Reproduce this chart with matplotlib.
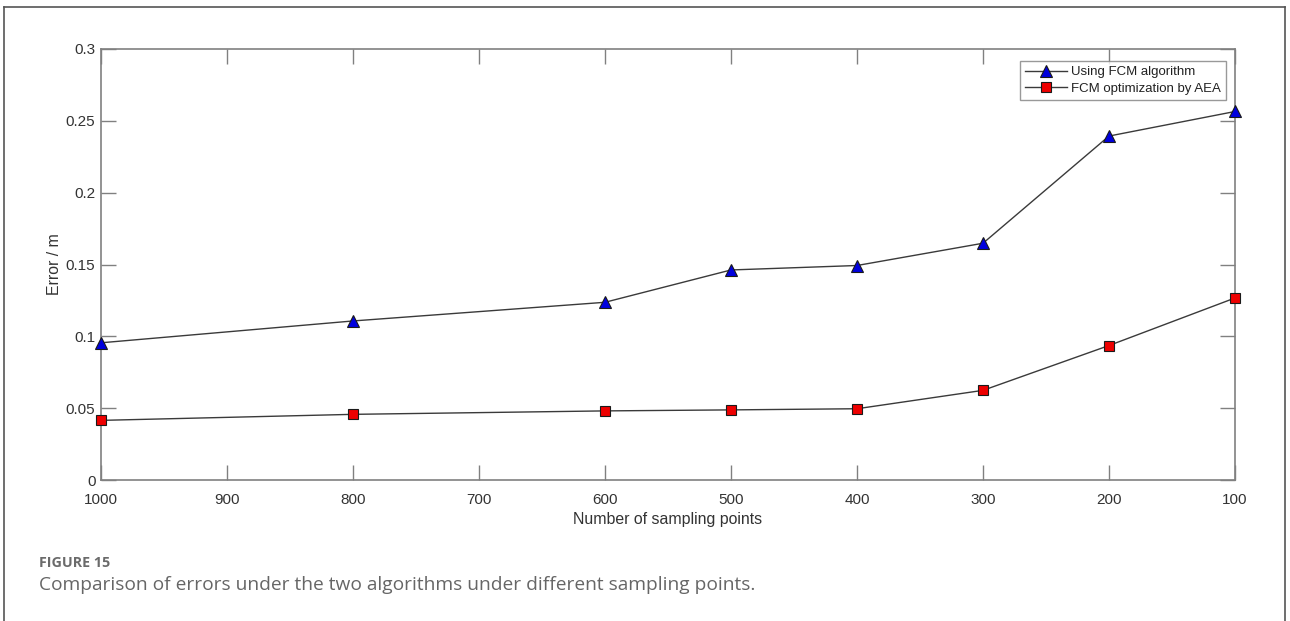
import matplotlib
matplotlib.use("Agg")
import matplotlib.pyplot as plt
from matplotlib.lines import Line2D

# sampling points (x axis runs from 1000 down to 100)
points = [1000, 800, 600, 500, 400, 300, 200, 100]
err_fcm = [0.0955, 0.1107, 0.1237, 0.1462, 0.1493, 0.1648, 0.2394, 0.2565]
err_aea = [0.0415, 0.0457, 0.0481, 0.0488, 0.0496, 0.0624, 0.0936, 0.1267]

xticks = [1000, 900, 800, 700, 600, 500, 400, 300, 200, 100]
yticks = [0, 0.05, 0.1, 0.15, 0.2, 0.25, 0.3]
ytick_labels = ["0", "0.05", "0.1", "0.15", "0.2", "0.25", "0.3"]

plt.rcParams['font.family'] = ['Liberation Sans', 'DejaVu Sans']

fig = plt.figure(figsize=(12.9, 6.21), dpi=100)
ax = fig.add_axes([101/1290, 1 - 480/621, (1235-101)/1290, (480-49)/621])

axc = '#808080'
ax.plot(points, err_fcm, color='#3a3a3a', lw=1.0, marker='^', ms=9,
        mfc='#0000dd', mec='#1a1a1a', mew=0.8, label='Using FCM algorithm',
        zorder=3, clip_on=False)
ax.plot(points, err_aea, color='#3a3a3a', lw=1.0, marker='s', ms=6.5,
        mfc='#ee0000', mec='#1a1a1a', mew=0.8, label='FCM optimization by AEA',
        zorder=3, clip_on=False)

ax.set_xlim(1000, 100)
ax.set_ylim(0, 0.3)
ax.set_xticks(xticks)
ax.set_xticklabels([str(v) for v in xticks])
ax.set_yticks(yticks)
ax.set_yticklabels(ytick_labels)
ax.tick_params(direction='in', length=11, width=1, color=axc, labelcolor='#333333',
               labelsize=11, top=True, right=True)
ax.tick_params(axis='x', pad=9)
ax.tick_params(axis='y', pad=4)
for s in ax.spines.values():
    s.set_color(axc)
    s.set_linewidth(1.2)

ax.set_xlabel('Number of sampling points', fontsize=11.4, color='#333333', labelpad=4)
ax.set_ylabel('Error / m', fontsize=11.4, color='#333333', labelpad=3)

leg = ax.legend(loc='upper right', bbox_to_anchor=(0.9925, 0.973), fontsize=9.5,
                frameon=True, fancybox=False, borderpad=0.4, labelspacing=0.35,
                handlelength=3.2, handletextpad=0.3, borderaxespad=0)
leg.get_frame().set_edgecolor(axc)
leg.get_frame().set_linewidth(1.0)
for t in leg.get_texts():
    t.set_color('#222222')

# outer frame (open at the bottom)
frame_c = '#555555'
fig.add_artist(Line2D([4/1290, 4/1290], [0, 1 - 7/621], transform=fig.transFigure, color=frame_c, lw=1.2))
fig.add_artist(Line2D([4/1290, 1285/1290], [1 - 7/621, 1 - 7/621], transform=fig.transFigure, color=frame_c, lw=1.2))
fig.add_artist(Line2D([1285/1290, 1285/1290], [0, 1 - 7/621], transform=fig.transFigure, color=frame_c, lw=1.2))

fig.text(39/1290, 1 - 563/621, 'FIGURE 15', fontsize=10.3, fontweight='bold', color='#6b6b6b',
         family=['Open Sans', 'DejaVu Sans'], va='center', ha='left')
fig.text(39/1290, 1 - 585/621, 'Comparison of errors under the two algorithms under different sampling points.',
         fontsize=13.8, color='#666666', family=['Open Sans', 'DejaVu Sans'], va='center', ha='left')

fig.savefig('out.png', dpi=100)
